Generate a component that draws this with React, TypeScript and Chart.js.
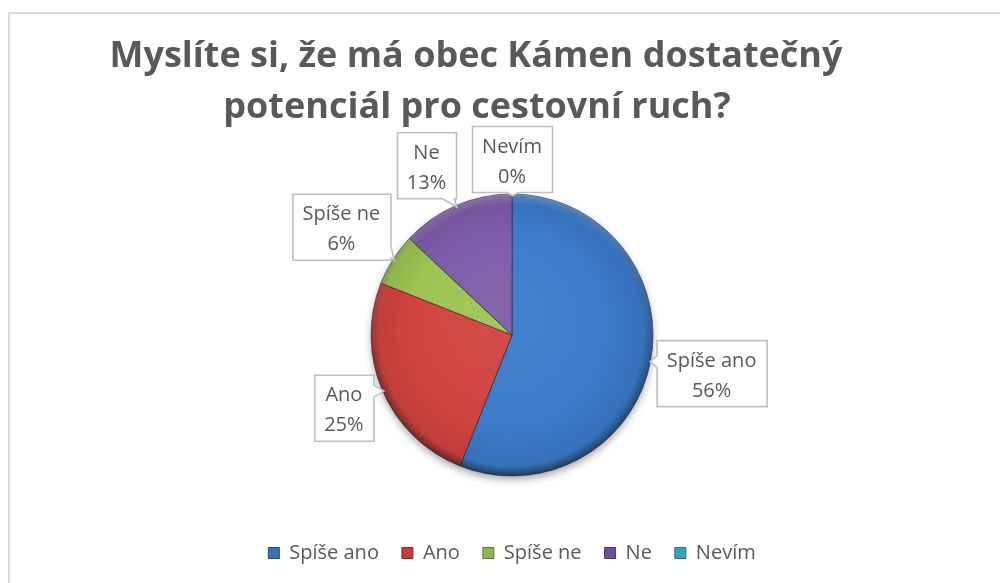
import { useEffect, useRef } from 'react';
import { Chart, registerables } from 'chart.js';

Chart.register(...registerables);

const categories = ['Spíše ano', 'Ano', 'Spíše ne', 'Ne', 'Nevím'];
const shares = [56, 25, 6, 13, 0];
const titleLines = ['Myslíte si, že má obec Kámen dostatečný', 'potenciál pro cestovní ruch?'];
const sliceColors = ['#3B7BC9', '#D0433F', '#9BC451', '#7E5BA8', '#3FB0CC'];
const legendColors = ['#3B71B8', '#C43F3C', '#90B64C', '#6F4F9C', '#38A2BF'];

const FONT = '"Open Sans", "Noto Sans", sans-serif';
const TEXT = '#595959';
const R = 141;

function shade(hex: string, f: number): string {
  const n = parseInt(hex.slice(1), 16);
  let r = (n >> 16) & 255, g = (n >> 8) & 255, b = n & 255;
  if (f >= 0) {
    r = r + (255 - r) * f; g = g + (255 - g) * f; b = b + (255 - b) * f;
  } else {
    r = r * (1 + f); g = g * (1 + f); b = b * (1 + f);
  }
  return `rgb(${Math.round(r)},${Math.round(g)},${Math.round(b)})`;
}

const framePlugin = {
  id: 'frame',
  beforeDraw(chart: any) {
    const ctx = chart.ctx;
    ctx.save();
    ctx.fillStyle = '#ffffff';
    ctx.fillRect(0, 0, chart.width, chart.height);
    ctx.strokeStyle = '#D9D9D9';
    ctx.lineWidth = 2;
    ctx.strokeRect(9, 13, chart.width + 20, chart.height + 20);
    ctx.restore();
  },
};

const titlePlugin = {
  id: 'customTitle',
  afterDraw(chart: any) {
    const ctx = chart.ctx;
    ctx.save();
    ctx.font = `bold 36px ${FONT}`;
    ctx.fillStyle = TEXT;
    ctx.textAlign = 'center';
    ctx.textBaseline = 'alphabetic';
    ctx.fillText(titleLines[0], 476, 67);
    ctx.fillText(titleLines[1], 477, 118);
    ctx.restore();
  },
};

const shadowPlugin = {
  id: 'pieShadow',
  beforeDatasetsDraw(chart: any) {
    const meta = chart.getDatasetMeta(0);
    const arc = meta.data[0];
    if (!arc) return;
    const { x, y, outerRadius } = arc.getProps(['x', 'y', 'outerRadius'], true);
    const ctx = chart.ctx;
    ctx.save();
    ctx.beginPath();
    ctx.arc(x, y, outerRadius - 1, 0, Math.PI * 2);
    ctx.shadowColor = 'rgba(0,0,0,0.4)';
    ctx.shadowBlur = 9;
    ctx.shadowOffsetY = 4;
    ctx.fillStyle = '#777';
    ctx.fill();
    ctx.restore();
  },
};

const bevelPlugin = {
  id: 'bevel',
  afterDatasetsDraw(chart: any) {
    const meta = chart.getDatasetMeta(0);
    const arc = meta.data[0];
    if (!arc) return;
    const { x, y, outerRadius } = arc.getProps(['x', 'y', 'outerRadius'], true);
    const r = outerRadius;
    const ctx = chart.ctx;
    const g = ctx.createLinearGradient(0, y - r, 0, y + r);
    g.addColorStop(0, 'rgba(255,255,255,0.30)');
    g.addColorStop(0.45, 'rgba(255,255,255,0.05)');
    g.addColorStop(0.6, 'rgba(0,0,0,0.05)');
    g.addColorStop(1, 'rgba(0,0,0,0.30)');
    const steps = 10;
    for (let k = 0; k < steps; k++) {
      ctx.save();
      ctx.beginPath();
      ctx.arc(x, y, r - k, 0, Math.PI * 2);
      ctx.arc(x, y, r - k - 1, 0, Math.PI * 2, true);
      ctx.globalAlpha = Math.pow(1 - k / steps, 1.5);
      ctx.fillStyle = g;
      ctx.fill('evenodd');
      ctx.restore();
    }
  },
};

type Box = { l: number; t: number; w: number; h: number };

const labelPlugin = {
  id: 'calloutLabels',
  afterDatasetsDraw(chart: any) {
    const ctx = chart.ctx;
    const meta = chart.getDatasetMeta(0);
    const data = chart.data.datasets[0].data as number[];
    const total = data.reduce((a, b) => a + b, 0);
    ctx.save();
    ctx.font = `20px ${FONT}`;
    const placed: { box: Box; tip: { x: number; y: number }; lines: string[] }[] = [];
    const order = meta.data.map((_: any, i: number) => i).reverse();
    for (const i of order) {
      const arc = meta.data[i];
      const { x, y, startAngle, endAngle, outerRadius } = arc.getProps(
        ['x', 'y', 'startAngle', 'endAngle', 'outerRadius'], true);
      const mid = (startAngle + endAngle) / 2;
      const c = Math.cos(mid), s = Math.sin(mid);
      const lines = [String(chart.data.labels[i]), `${Math.round((data[i] / total) * 100)}%`];
      const tw = Math.max(...lines.map((t) => ctx.measureText(t).width));
      const w = Math.round(tw + 20);
      const h = 66;
      const ext = Math.abs(c) * w / 2 + Math.abs(s) * h / 2;
      const d = outerRadius + 2 + ext;
      const bx = x + d * c, by = y + d * s;
      const box: Box = { l: bx - w / 2, t: by - h / 2, w, h };
      for (const p of placed) {
        const o = p.box;
        const vOverlap = Math.min(box.t + box.h, o.t + o.h) - Math.max(box.t, o.t);
        if (vOverlap > 6) {
          const m = 16;
          if (box.l + box.w / 2 < o.l + o.w / 2) {
            const need = box.l + box.w - (o.l - m);
            if (need > 0) box.l -= need;
          } else {
            const need = o.l + o.w + m - box.l;
            if (need > 0) box.l += need;
          }
        }
      }
      placed.push({ box, tip: { x: x + (outerRadius - 1) * c, y: y + (outerRadius - 1) * s }, lines });
    }

    for (const { box, tip, lines } of placed) {
      const L = box.l, T = box.t, Rr = box.l + box.w, B = box.t + box.h;
      const sepL = L - tip.x, sepR = tip.x - Rr, sepT = T - tip.y, sepB = tip.y - B;
      const hs = Math.max(sepL, sepR), vs = Math.max(sepT, sepB);
      const hw = 6;
      const clamp = (v: number, a: number, b: number) => Math.max(a, Math.min(b, v));
      let pts: number[][] = [];
      const TL = [L, T], TR = [Rr, T], BR = [Rr, B], BL = [L, B];
      if (hs >= vs && hs > 0) {
        const cy = clamp(tip.y, T + hw + 2, B - hw - 2);
        if (sepR >= sepL) {
          pts = [TL, TR, [Rr, cy - hw], [tip.x, tip.y], [Rr, cy + hw], BR, BL];
        } else {
          pts = [TL, TR, BR, BL, [L, cy + hw], [tip.x, tip.y], [L, cy - hw]];
        }
      } else if (vs > 0) {
        const cx = clamp(tip.x, L + hw + 2, Rr - hw - 2);
        if (sepB >= sepT) {
          pts = [TL, TR, BR, [cx + hw, B], [tip.x, tip.y], [cx - hw, B], BL];
        } else {
          pts = [TL, [cx - hw, T], [tip.x, tip.y], [cx + hw, T], TR, BR, BL];
        }
      } else {
        pts = [TL, TR, BR, BL];
      }
      ctx.beginPath();
      pts.forEach((p, k) => (k === 0 ? ctx.moveTo(p[0] + 0.5, p[1] + 0.5) : ctx.lineTo(p[0] + 0.5, p[1] + 0.5)));
      ctx.closePath();
      ctx.fillStyle = '#ffffff';
      ctx.fill();
      ctx.strokeStyle = '#BFBFBF';
      ctx.lineWidth = 1.6;
      ctx.lineJoin = 'miter';
      ctx.stroke();

      const cxT = L + box.w / 2, cyT = T + box.h / 2;
      ctx.fillStyle = TEXT;
      ctx.textAlign = 'center';
      ctx.textBaseline = 'alphabetic';
      ctx.fillText(lines[0], cxT, cyT - 6.5);
      ctx.fillText(lines[1], cxT, cyT + 23.5);
    }
    ctx.restore();
  },
};

export default function App() {
  const ref = useRef<HTMLCanvasElement | null>(null);

  useEffect(() => {
    document.body.style.margin = '0';
    const canvas = ref.current;
    if (!canvas) return;
    const chart = new Chart(canvas, {
      type: 'pie',
      data: {
        labels: categories,
        datasets: [
          {
            data: shares,
            backgroundColor: (c: any) => {
              const base = sliceColors[c.dataIndex % sliceColors.length];
              const ch = c.chart;
              const ca = ch.chartArea;
              if (!ca) return base;
              const cx = (ca.left + ca.right) / 2;
              const cy = (ca.top + ca.bottom) / 2;
              const g = ch.ctx.createRadialGradient(cx - 20, cy - 30, 0, cx, cy, R);
              g.addColorStop(0, shade(base, 0.06));
              g.addColorStop(0.7, base);
              g.addColorStop(0.94, shade(base, -0.08));
              g.addColorStop(1, shade(base, -0.3));
              return g;
            },
            borderColor: 'rgba(25,35,55,0.55)',
            borderWidth: 1,
          },
        ],
      },
      options: {
        responsive: false,
        animation: false,
        events: [],
        radius: R,
        layout: { padding: { top: 150, left: 24, right: 0, bottom: 10 } },
        plugins: {
          title: { display: false },
          tooltip: { enabled: false },
          legend: {
            display: true,
            position: 'bottom',
            labels: {
              font: { family: FONT, size: 20 },
              color: TEXT,
              boxWidth: 11,
              boxHeight: 11,
              padding: 23,
              generateLabels: () =>
                categories.map((c, i) => ({
                  text: c,
                  fillStyle: legendColors[i],
                  strokeStyle: shade(legendColors[i], -0.35),
                  lineWidth: 1,
                  hidden: false,
                  index: i,
                  fontColor: TEXT,
                })),
            },
          },
        },
      } as any,
      plugins: [framePlugin, titlePlugin, shadowPlugin, bevelPlugin, labelPlugin],
    });
    return () => chart.destroy();
  }, []);

  return (
    <div style={{ width: 1000, height: 583 }}>
      <canvas ref={ref} width={1000} height={583} style={{ display: 'block' }} />
    </div>
  );
}
